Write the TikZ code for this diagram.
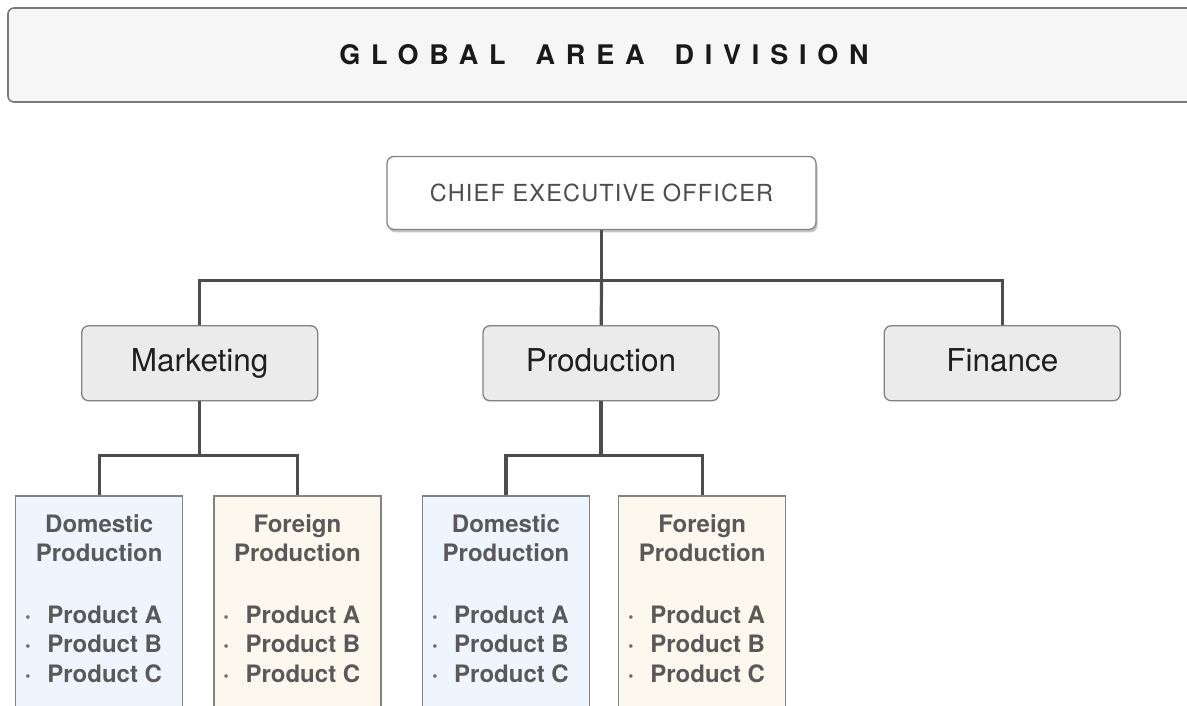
\documentclass[tikz,border=0pt]{standalone}
\usepackage{fontspec}
\setmainfont{TeX Gyre Heros}
\newfontfamily\titlefont[LetterSpace=40]{TeX Gyre Heros}
\newfontfamily\ceofont[LetterSpace=5]{TeX Gyre Heros}
\usetikzlibrary{positioning, shadows}
\definecolor{bannerfill}{HTML}{F6F6F6}
\definecolor{bannerline}{HTML}{7A7A7A}
\definecolor{boxline}{HTML}{828282}
\definecolor{deptfill}{HTML}{EBEBEB}
\definecolor{domfill}{HTML}{EEF5FC}
\definecolor{forfill}{HTML}{FCF8EE}
\definecolor{linkgray}{HTML}{4D4D4D}
\definecolor{unittext}{HTML}{595959}
\definecolor{dotgray}{HTML}{6E6E6E}
\tikzstyle{banner} = [rectangle, rounded corners=6pt, draw=bannerline, line width=1.6pt, fill=bannerfill, minimum width=1192pt, minimum height=94pt, text=black!90]
\tikzstyle{topbox} = [rectangle, rounded corners=7pt, draw=boxline, line width=1.3pt, fill=white, minimum width=429pt, minimum height=73pt, text=black!70, drop shadow={shadow xshift=1.5pt, shadow yshift=-3pt, opacity=0.45}]
\tikzstyle{dept} = [rectangle, rounded corners=7pt, draw=boxline, line width=1.3pt, fill=deptfill, minimum width=236pt, minimum height=75pt, text height=22pt, text depth=6pt, text=black!88, font=\fontsize{31.5}{36}\selectfont]
\tikzstyle{unit} = [rectangle, draw=boxline, line width=1.2pt, inner sep=0pt, text=unittext, font=\bfseries\fontsize{24}{29.5}\selectfont]
\tikzstyle{link} = [line width=3.2pt, draw=linkgray]
\newcommand{\prodline}[1]{\makebox[167pt][l]{\hspace{9pt}{\color{dotgray}\textperiodcentered}\hspace{16pt}Product #1}}
\newcommand{\unitlist}[2]{\parbox[t][240pt][t]{167pt}{\centering\rule{0pt}{36pt}#1\\#2\\[32pt]\prodline{A}\\\prodline{B}\\\prodline{C}}}

\begin{document}
\begin{tikzpicture}
            \path [use as bounding box] (0,0) rectangle (1187pt,-706pt);
            \fill [white] (0,0) rectangle (1187pt,-706pt);
            \clip (0,0) rectangle (1187pt,-706pt);

            \node (title) [banner] at (604pt,-55pt) {\titlefont\bfseries\fontsize{27}{30}\selectfont GLOBAL\hspace{30pt}AREA\hspace{30pt}DIVISION};
            \node (ceo) [topbox, below=53pt of title, xshift=-2.5pt] {\ceofont\fontsize{23.5}{27}\selectfont CHIEF EXECUTIVE OFFICER};

            \node (prd) [dept, below=95pt of ceo, xshift=-0.5pt] {Production};
            \node (mkt) [dept, left=164pt of prd] {Marketing};
            \node (fin) [dept, right=164pt of prd] {Finance};

            \node (mktdom) [unit, fill=domfill, below=94pt of mkt, xshift=-100.5pt] {\unitlist{Domestic}{Production}};
            \node (mktfor) [unit, fill=forfill, right=30pt of mktdom] {\unitlist{Foreign}{Production}};
            \node (prddom) [unit, fill=domfill, below=94pt of prd, xshift=-95pt] {\unitlist{Domestic}{Production}};
            \node (prdfor) [unit, fill=forfill, right=28pt of prddom] {\unitlist{Foreign}{Production}};

            \coordinate [below=50pt of ceo.south] (hub);
            \coordinate [below=54pt of mkt.south] (mkthub);
            \coordinate [below=54pt of prd.south] (prdhub);

            \draw [link] (ceo) -- (hub);
            \draw [link] (mkt) |- (hub) -| (fin);
            \draw [link] (hub) -- (prd);

            \draw [link] (mkt) -- (mkthub);
            \draw [link] (mktdom) |- (mkthub) -| (mktfor);
            \draw [link] (prd) -- (prdhub);
            \draw [link] (prddom) |- (prdhub) -| (prdfor);
\end{tikzpicture}
\end{document}
